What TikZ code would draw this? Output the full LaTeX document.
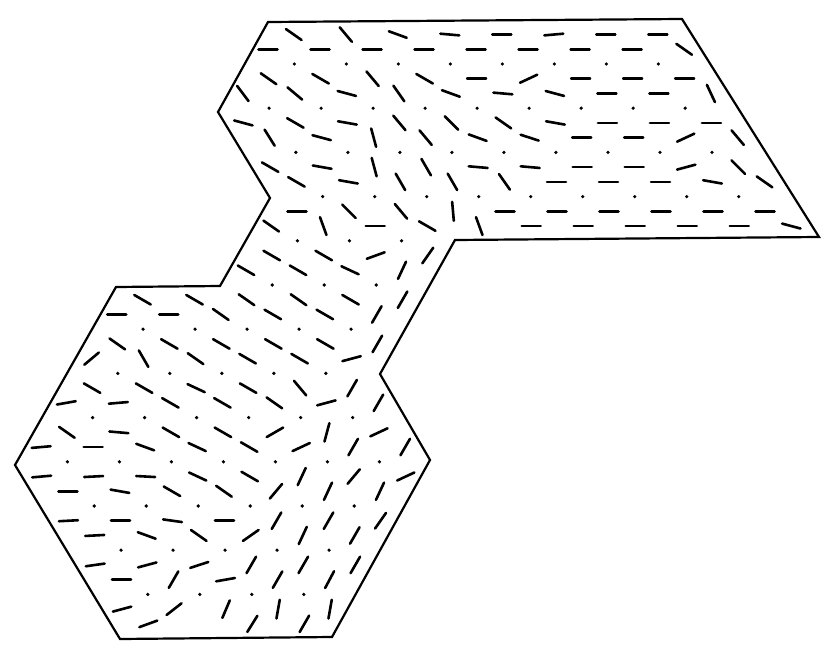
\documentclass[tikz,border=0pt]{standalone}
\begin{document}
\begin{tikzpicture}[x=1pt,y=-1pt,
    rim/.style={line width=2.2pt, line join=miter},
    bar/.style={line width=2.6pt, line cap=round}]
    \useasboundingbox (0,0) rectangle (833,656);
    % Rand des Gebiets
    \draw[rim] (268,22) -- (682,19) -- (819,237) -- (455,240) -- (380,374)
        -- (430,460) -- (332,637) -- (120,639) -- (15,465) -- (116,287)
        -- (220,286) -- (270,198) -- (218,112) -- cycle;
    % Gitterplaetze senkrecht zur Ebene (Punkte)
    \foreach \n/\qa/\qb in {0/0/7, 3/-2/6, 6/-3/5, 9/-4/4, 12/-6/-4, 15/-8/-6,
        18/-12/-8, 21/-14/-10, 24/-16/-11, 27/-18/-12, 30/-19/-14,
        33/-20/-16, 36/-21/-18}
        \foreach \q in {\qa,...,\qb}
            \fill ({294.3+26.27*(\n)+52.01*(\q)},{64+14.733*(\n)}) circle (1.8);
    % Striche (Zeile, erster Platz, Winkel)
    \foreach \n/\qa/\angs in {
        -2/1/{-35,-50,-20,-5,0,5,0,0},
        -1/0/{0,0,0,0,0,0,0,0,-35},
        1/-1/{-35,-30,-50,-30,0,25,0,0,0},
        2/-2/{-53,-40,-15,-55,-20,-5,-15,0,0,-65},
        4/-3/{-15,-30,-10,-50,-45,-35,-10,0,0,0},
        5/-3/{-58,-15,-75,-50,-20,-18,0,0,25,-50},
        7/-4/{-30,-10,-75,-60,-5,-5,0,0,15,-45},
        8/-4/{-30,-10,-60,-60,-55,0,0,0,-10,-35},
        10/-5/{0,-45,-50,-85,0,0,0,0,0,0},
        11/-6/{-35,-70,0,-30,-70,0,0,0,0,0,-15},
        13/-7/{-30,-30,20,55},
        14/-8/{-30,-30,-25,65},
        16/-11/{-30,-30,-35,-35,-30,60},
        17/-12/{0,0,-35,-30,-30,60},
        19/-13/{-35,-30,-30,-30,-30,60},
        20/-14/{40,-60,-35,-30,-30,15},
        22/-15/{-30,-30,-25,-30,-50,60},
        23/-16/{10,5,-30,-30,-35,15,60},
        25/-17/{-35,-5,-30,-30,30,75,25},
        26/-18/{5,0,-20,-25,-30,25,60,60},
        28/-19/{5,3,-3,-25,-30,65,50,25},
        29/-19/{0,-10,-30,-35,50,65,65},
        31/-20/{3,0,-8,0,60,60,55},
        32/-20/{3,-20,-35,35,65,60},
        34/-21/{8,15,18,60,60,60},
        35/-21/{0,60,10,60,62},
        37/-22/{15,38,67,80,80},
        38/-22/{20},
        38/-20/{58,60}}
        \foreach \a [count=\c from 0] in \angs {
            \pgfmathsetmacro\px{294.3+26.27*(\n)+52.01*(\qa+\c)}
            \pgfmathsetmacro\py{64+14.733*(\n)}
            \draw[bar] ({\px-9.5*cos(\a)},{\py+9.5*sin(\a)})
                -- ({\px+9.5*cos(\a)},{\py-9.5*sin(\a)});
        }
\end{tikzpicture}
\end{document}
